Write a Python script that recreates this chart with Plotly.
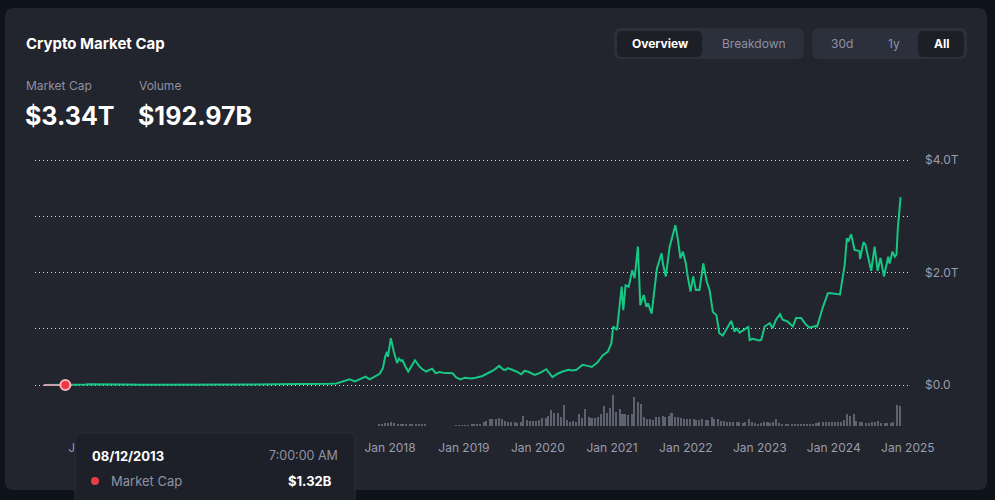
import plotly.graph_objects as go
import pandas as pd

# ---------------- data ----------------
cap_dates = [
    "2013-04-28", "2013-06-15", "2013-08-12", "2013-10-15", "2013-11-20", "2013-12-04",
    "2014-01-10", "2014-03-01", "2014-06-01", "2014-09-01", "2014-12-01",
    "2015-03-01", "2015-07-01", "2015-11-05", "2016-03-01", "2016-06-17", "2016-10-01",
    "2017-01-04", "2017-03-10", "2017-04-12", "2017-05-21", "2017-06-15", "2017-07-12",
    "2017-08-04", "2017-09-02", "2017-09-23", "2017-10-17", "2017-11-11", "2017-11-27",
    "2017-12-08", "2017-12-17", "2017-12-22",
    "2018-01-05", "2018-01-12", "2018-01-20", "2018-02-05", "2018-02-14", "2018-02-24",
    "2018-03-04", "2018-03-18", "2018-04-01", "2018-04-18", "2018-05-04", "2018-05-26",
    "2018-06-10", "2018-06-29", "2018-07-28", "2018-08-14", "2018-09-03", "2018-09-20",
    "2018-10-15", "2018-11-06", "2018-11-22", "2018-12-14",
    "2019-01-05", "2019-02-07", "2019-03-01", "2019-04-03", "2019-05-15", "2019-05-30",
    "2019-06-24", "2019-07-16", "2019-07-28", "2019-08-06", "2019-09-17", "2019-10-11",
    "2019-10-27", "2019-11-12", "2019-12-17",
    "2020-01-14", "2020-02-12", "2020-03-13", "2020-04-08", "2020-05-02", "2020-06-02",
    "2020-06-21", "2020-07-10", "2020-08-09", "2020-09-03", "2020-09-23", "2020-10-21",
    "2020-11-17", "2020-12-11", "2020-12-29",
    "2021-01-07", "2021-01-26", "2021-02-18", "2021-02-26", "2021-03-09", "2021-03-25",
    "2021-04-11", "2021-04-23", "2021-05-09", "2021-05-21", "2021-06-07", "2021-06-20",
    "2021-06-28", "2021-07-16", "2021-08-11", "2021-09-03", "2021-09-10", "2021-09-24",
    "2021-10-13", "2021-10-29", "2021-11-10", "2021-11-23", "2021-12-05", "2021-12-17",
    "2022-01-01", "2022-01-09", "2022-01-24", "2022-02-06", "2022-02-19", "2022-03-09",
    "2022-03-28", "2022-04-14", "2022-04-28", "2022-05-14", "2022-06-01", "2022-06-15",
    "2022-07-02", "2022-07-18", "2022-08-13", "2022-08-29", "2022-09-10", "2022-09-23",
    "2022-10-26", "2022-11-05", "2022-11-12", "2022-11-27", "2022-12-30",
    "2023-01-08", "2023-01-25", "2023-02-19", "2023-03-05", "2023-03-22", "2023-04-11",
    "2023-04-24", "2023-05-18", "2023-06-13", "2023-06-29", "2023-07-24", "2023-08-18",
    "2023-09-04", "2023-10-06", "2023-10-11", "2023-11-09", "2023-12-03", "2023-12-19",
    "2024-02-01", "2024-02-24", "2024-03-06", "2024-03-13", "2024-03-27", "2024-04-13",
    "2024-05-07", "2024-05-10", "2024-05-27", "2024-06-05", "2024-07-04", "2024-07-21",
    "2024-08-05", "2024-08-19", "2024-09-05", "2024-09-26", "2024-10-03", "2024-10-17",
    "2024-10-29", "2024-11-06", "2024-11-12", "2024-11-26",
]
# market cap, trillions USD
cap_values = [
    0.0015, 0.0012, 0.00132, 0.0019, 0.008, 0.015,
    0.011, 0.008, 0.0083, 0.0064, 0.0050,
    0.0038, 0.0040, 0.0063, 0.0068, 0.012, 0.011,
    0.018, 0.022, 0.028, 0.070, 0.100, 0.065,
    0.100, 0.150, 0.100, 0.150, 0.200, 0.300,
    0.500, 0.590, 0.500,
    0.830, 0.700, 0.590, 0.390, 0.470, 0.430,
    0.440, 0.330, 0.240, 0.340, 0.440, 0.330,
    0.280, 0.240, 0.290, 0.210, 0.230, 0.220,
    0.210, 0.210, 0.140, 0.100,
    0.130, 0.115, 0.130, 0.160, 0.240, 0.270,
    0.340, 0.270, 0.270, 0.300, 0.240, 0.190,
    0.250, 0.240, 0.180,
    0.220, 0.280, 0.140, 0.200, 0.240, 0.270,
    0.260, 0.270, 0.360, 0.340, 0.320, 0.400,
    0.530, 0.590, 0.740,
    1.040, 0.980, 1.750, 1.330, 1.770, 1.750,
    2.040, 1.900, 2.460, 1.420, 1.600, 1.390,
    1.450, 1.270, 2.070, 2.340, 2.150, 1.930,
    2.460, 2.670, 2.840, 2.580, 2.250, 2.370,
    2.160, 1.950, 1.660, 1.930, 1.690, 1.690,
    2.160, 1.840, 1.690, 1.300, 1.240, 0.920,
    0.880, 0.980, 1.140, 0.950, 1.000, 0.930,
    1.010, 1.030, 0.800, 0.820, 0.790,
    0.800, 1.040, 1.100, 1.010, 1.160, 1.260,
    1.160, 1.130, 1.040, 1.190, 1.190, 1.070,
    1.020, 1.050, 1.040, 1.390, 1.630, 1.630,
    1.610, 2.130, 2.610, 2.550, 2.680, 2.400,
    2.380, 2.240, 2.540, 2.500, 2.030, 2.460,
    2.030, 2.260, 1.930, 2.280, 2.160, 2.370,
    2.280, 2.320, 2.750, 3.340,
]

# volume, billions USD, two values per month starting Nov 2017
vol_start = "2017-11-01"
vol_2017 = [20, 25, 30, 35]
vol_2018 = [40, 35, 25, 20, 20, 20, 25, 25, 25, 25, 20, 20,
            0, 0, 0, 0, 0, 0, 0, 0, 0, 5, 6, 8]
vol_2019 = [8, 10, 12, 15, 20, 25, 45, 55, 70, 75, 75, 80,
            70, 50, 45, 40, 40, 35, 40, 100, 60, 55, 50, 55]
vol_2020 = [60, 80, 80, 100, 165, 135, 130, 95, 210, 60, 45, 50,
            45, 120, 80, 170, 90, 85, 80, 90, 120, 200, 130, 180]
vol_2021 = [310, 140, 170, 120, 120, 115, 120, 290, 240, 220, 90, 70,
            70, 65, 95, 90, 100, 95, 100, 130, 95, 90, 80, 75]
vol_2022 = [75, 70, 70, 65, 65, 70, 65, 60, 90, 75, 70, 55,
            50, 45, 45, 45, 40, 45, 35, 40, 70, 45, 30, 25]
vol_2023 = [35, 40, 40, 35, 45, 70, 35, 25, 15, 15, 15, 20,
            15, 15, 12, 12, 12, 15, 30, 40, 40, 45, 45, 40]
vol_2024 = [45, 40, 40, 60, 120, 100, 120, 50, 40, 40, 35, 35,
            40, 40, 50, 35, 35, 35, 35, 40, 210, 200]
vol_values = vol_2017 + vol_2018 + vol_2019 + vol_2020 + vol_2021 + vol_2022 + vol_2023 + vol_2024

# Jan 2015-2017 labels are fully hidden behind the tooltip in the reference
x_tick_dates = ["2014-01-01", "2018-01-01", "2019-01-01", "2020-01-01", "2021-01-01",
                "2022-01-01", "2023-01-01", "2024-01-01", "2025-01-01"]
x_tick_labels = ["Jan 2014", "Jan 2018", "Jan 2019", "Jan 2020", "Jan 2021",
                 "Jan 2022", "Jan 2023", "Jan 2024", "Jan 2025"]
y_tick_vals = [0, 1, 2, 3, 4]
y_tick_labels = ["$0.0", "", "$2.0T", "", "$4.0T"]

hover_date = "2013-08-12"
hover_value = 0.00132

# ---------------- geometry ----------------
W, H = 995, 500
L, R, T, B = 35, 908, 150, 437

def px(x):
    return (x - L) / (R - L)

def py(y):
    return (B - y) / (B - T)

def rrect(x0, y0, x1, y1, r):
    pts = [
        ("M", [(x0 + r, y0)]), ("L", [(x1 - r, y0)]), ("Q", [(x1, y0), (x1, y0 + r)]),
        ("L", [(x1, y1 - r)]), ("Q", [(x1, y1), (x1 - r, y1)]), ("L", [(x0 + r, y1)]),
        ("Q", [(x0, y1), (x0, y1 - r)]), ("L", [(x0, y0 + r)]), ("Q", [(x0, y0), (x0 + r, y0)]),
    ]
    s = ""
    for cmd, ps in pts:
        s += cmd + " " + " ".join(f"{px(a):.5f},{py(b):.5f}" for a, b in ps) + " "
    return s + "Z"

# x range from pixel mapping: Jan 2018 at 390px, 73.97 px per year
px_per_day = 73.97 / 365.25
ref = pd.Timestamp("2018-01-01")
x_left = ref - pd.Timedelta(days=(390 - L) / px_per_day)
x_right = ref + pd.Timedelta(days=(R - 390) / px_per_day)

# y ranges: $0 at 385px, 56.25 px per trillion
y_lo = -(B - 385) / 56.25
y_hi = (385 - T) / 56.25
# volume: baseline at 426px, 10B per px
v_lo = -(B - 426) * 10
v_hi = (426 - T) * 10

PAGE = "#0e121b"
CARD = "#22242e"
GROUP = "#2c2f3c"
SEL = "#1d1f27"
TIP = "#1e2029"
GRAY = "#8f92a1"
TICK = "#9a9dab"
GREEN = "#16c784"
VOL = "#5e6170"
FONT = "Inter"

vol_dates = pd.date_range(vol_start, periods=len(vol_values), freq="SMS") + pd.Timedelta(days=7)

fig = go.Figure()
fig.add_trace(go.Bar(x=vol_dates, y=vol_values, yaxis="y2", marker=dict(color=VOL, line=dict(width=0)),
                     width=10 * 86400000, showlegend=False))
fig.add_trace(go.Scatter(x=cap_dates, y=cap_values, mode="lines",
                         line=dict(color=GREEN, width=2), showlegend=False))
pre_d = [d for d in cap_dates if d <= hover_date]
pre_v = cap_values[:len(pre_d)]
fig.add_trace(go.Scatter(x=pre_d, y=pre_v, mode="lines",
                         line=dict(color="#c9a2aa", width=2), showlegend=False))
fig.add_trace(go.Scatter(x=[hover_date], y=[hover_value], mode="markers",
                         marker=dict(color="#ea3943", size=10, line=dict(color="#f5b5b9", width=2)),
                         showlegend=False))

shapes = [
    dict(type="path", path=rrect(5, 8, 987, 490, 9), xref="paper", yref="paper",
         fillcolor=CARD, line=dict(width=0), layer="below"),
    dict(type="path", path=rrect(614, 28, 804, 59, 7), xref="paper", yref="paper",
         fillcolor=GROUP, line=dict(width=0), layer="below"),
    dict(type="path", path=rrect(617, 31, 702, 57, 6), xref="paper", yref="paper",
         fillcolor=SEL, line=dict(width=0), layer="below"),
    dict(type="path", path=rrect(812, 28, 967, 59, 7), xref="paper", yref="paper",
         fillcolor=GROUP, line=dict(width=0), layer="below"),
    dict(type="path", path=rrect(918, 31, 964, 57, 6), xref="paper", yref="paper",
         fillcolor=SEL, line=dict(width=0), layer="below"),
    # tooltip
    dict(type="path", path=rrect(75, 433, 355, 520, 6), xref="paper", yref="paper",
         fillcolor=TIP, line=dict(color="#2a2d38", width=1), layer="above"),
    dict(type="circle", xref="paper", yref="paper", x0=px(91), x1=px(99), y0=py(485), y1=py(477),
         fillcolor="#e53e46", line=dict(width=0), layer="above"),
]

def ann(x, y, text, size, color, bold=False, anchor="left"):
    return dict(x=px(x), y=py(y), xref="paper", yref="paper", text=f"<b>{text}</b>" if bold else text,
                showarrow=False, xanchor=anchor, yanchor="middle",
                font=dict(family=FONT, size=size, color=color))

annotations = [
    ann(24, 44, "Crypto Market Cap", 15, "#ffffff", True),
    ann(24, 85, "Market Cap", 12, GRAY),
    ann(137, 85, "Volume", 12, GRAY),
    ann(23, 116, "$3.34T", 25, "#ffffff", True),
    ann(136, 116, "$192.97B", 25, "#ffffff", True),
    ann(660, 44, "Overview", 12, "#ffffff", True, "center"),
    ann(754, 44, "Breakdown", 12, GRAY, False, "center"),
    ann(842, 44, "30d", 12, GRAY, False, "center"),
    ann(894, 44, "1y", 12, GRAY, False, "center"),
    ann(941, 44, "All", 12, "#ffffff", True, "center"),
    ann(90, 456, "08/12/2013", 13, "#ffffff", True),
    ann(340, 456, "7:00:00 AM", 12.5, GRAY, False, "right"),
    ann(109, 481, "Market Cap", 13, GRAY),
    ann(334, 481, "$1.32B", 13, "#ffffff", True, "right"),
]

fig.update_layout(
    width=W, height=H,
    margin=dict(l=L, r=W - R, t=T, b=H - B, pad=0),
    paper_bgcolor=PAGE, plot_bgcolor="rgba(0,0,0,0)",
    font=dict(family=FONT, color=TICK, size=12),
    hovermode=False, showlegend=False, bargap=0,
    shapes=shapes, annotations=annotations,
    xaxis=dict(type="date", range=[x_left, x_right], tickvals=x_tick_dates, ticktext=x_tick_labels,
               showgrid=False, zeroline=False, showline=False, ticks="",
               tickfont=dict(family=FONT, size=12, color=TICK), ticklabelstandoff=2, automargin=False),
    yaxis=dict(range=[y_lo, y_hi], tickvals=y_tick_vals, ticktext=y_tick_labels, side="right",
               showgrid=True, gridcolor="rgba(255,255,255,0.85)", griddash="1px,3px", gridwidth=1,
               zeroline=False, showline=False, ticks="", ticklabelstandoff=16,
               tickfont=dict(family=FONT, size=12, color=TICK), automargin=False),
    yaxis2=dict(range=[v_lo, v_hi], overlaying="y", visible=False, showgrid=False, zeroline=False),
)

fig.write_html("out.html", config={"displayModeBar": False},
               post_script="document.body.style.margin='0px';document.body.style.overflow='hidden';")
